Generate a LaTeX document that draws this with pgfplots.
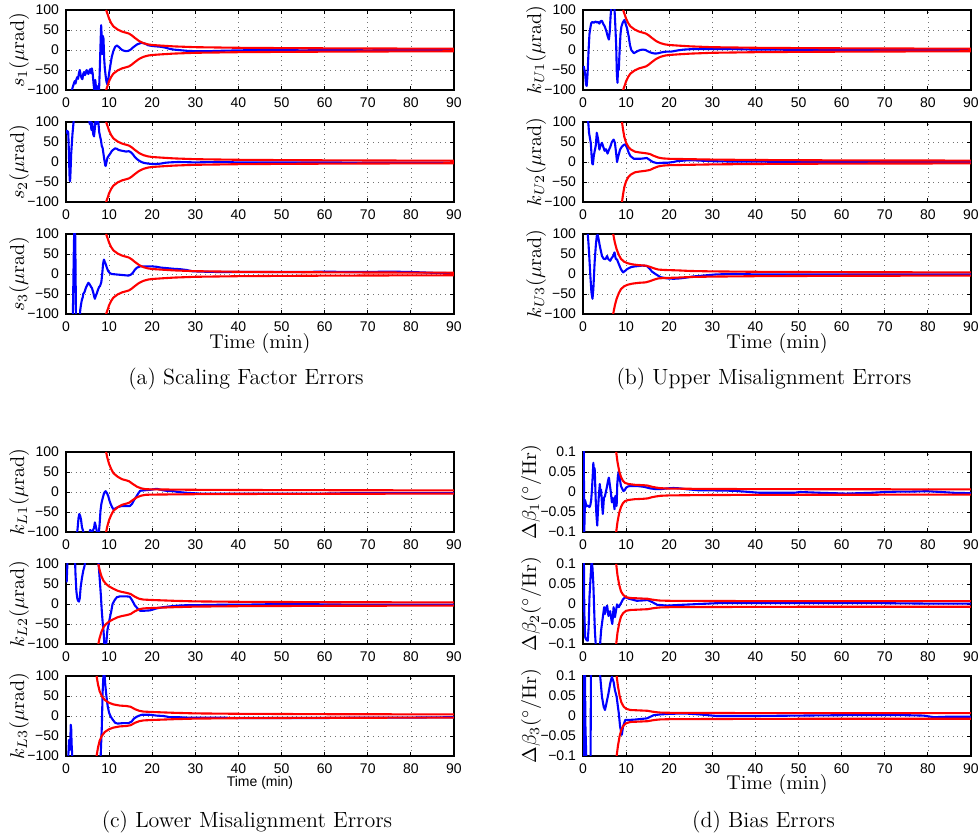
\documentclass[border=0pt]{standalone}
\usepackage{fontspec}
\usepackage{pgfplots}
\usepackage{pgfplotstable}
\pgfplotsset{compat=1.18}
\newfontfamily\tickfont{Liberation Sans}

% ---------- envelopes (t, upper, lower) ----------
\pgfplotstableread{
t up lo
9.3 100 -100
9.7 88 -88
10 78 -78
10.5 67 -67
11 59 -59
12 51 -51
13 46 -46
14 43 -43
14.6 41 -41
15.2 37 -37
16 30 -30
17 22 -22
18 17 -17
19 14 -14
20 12.5 -12.5
22 11 -11
25 9 -9
30 7 -7
40 5.5 -5.5
50 4.7 -4.7
60 4.2 -4.2
70 3.8 -3.8
80 3.5 -3.5
90 3.2 -3.2
}\EA
\pgfplotstableread{
t up lo
9.05 100 -100
9.3 80 -80
9.6 62 -62
10 48 -48
10.5 38 -38
11 32 -32
12 26 -26
13 24 -24
14.5 22 -22
15.5 20 -20
16.5 15 -15
17.5 11 -11
18.5 9 -9
20 8 -8
25 7 -7
30 6 -6
40 5 -5
60 4 -4
90 3.5 -3.5
}\EBtwo
\pgfplotstableread{
t up lo
7.0 100 -100
7.4 78 -78
7.8 62 -62
8.3 48 -48
8.8 38 -38
9.5 31 -31
10.3 27 -27
11.5 24 -24
13 22 -22
14.5 21 -21
15.5 18 -18
16.5 14 -14
17.5 11 -11
19 10 -10
22 9 -9
25 7.5 -7.5
30 6.5 -6.5
40 5.5 -5.5
60 4.5 -4.5
90 4 -4
}\EBthree
\pgfplotstableread{
t up lo
9.3 100 -100
9.6 85 -85
10 70 -70
10.5 57 -57
11 47 -47
12 38 -38
13 32 -32
14 29 -29
14.6 27 -27
15.5 20 -20
16.5 13 -13
17.5 9 -9
18.5 7 -7
20 6.5 -6.5
25 6 -6
30 5.5 -5.5
40 5 -5
60 4.5 -4.5
90 4 -4
}\ECone
\pgfplotstableread{
t up lo
7.5 100 -100
7.8 85 -85
8.2 70 -70
8.7 58 -58
9.3 50 -50
10 44 -44
11 38 -38
12 33 -33
13 30 -30
14 28 -28
15 25 -25
16 18 -18
17 13 -13
18 11 -11
20 10 -10
25 8 -8
30 6.5 -6.5
40 5.5 -5.5
60 4.5 -4.5
90 4 -4
}\ECtwo
\pgfplotstableread{
t up lo
7.1 100 -100
7.4 80 -80
7.8 62 -62
8.3 50 -50
9 40 -40
10 33 -33
11 29 -29
12.5 26 -26
14 25 -25
15 23 -23
16 17 -17
17 13 -13
18 11 -11
20 10 -10
25 8 -8
30 6.5 -6.5
40 5.5 -5.5
60 4.5 -4.5
90 4 -4
}\ECthree
\pgfplotstableread{
t up lo
7.7 0.1 -0.1
8.0 0.075 -0.075
8.4 0.052 -0.052
8.8 0.038 -0.038
9.2 0.029 -0.029
9.7 0.023 -0.023
10.5 0.02 -0.02
12 0.018 -0.018
14 0.017 -0.017
15 0.016 -0.016
16 0.013 -0.013
17 0.011 -0.011
18 0.0095 -0.0095
20 0.0085 -0.0085
25 0.008 -0.008
30 0.0075 -0.0075
50 0.007 -0.007
90 0.0065 -0.0065
}\EDone
\pgfplotstableread{
t up lo
7.7 0.1 -0.1
8.0 0.072 -0.072
8.4 0.048 -0.048
8.8 0.032 -0.032
9.3 0.023 -0.023
10 0.017 -0.017
11 0.015 -0.015
13 0.014 -0.014
15 0.013 -0.013
16 0.011 -0.011
17 0.0095 -0.0095
18 0.0085 -0.0085
20 0.008 -0.008
30 0.0075 -0.0075
50 0.007 -0.007
90 0.007 -0.007
}\EDtwo
\pgfplotstableread{
t up lo
7.8 0.1 -0.1
8.1 0.075 -0.075
8.5 0.05 -0.05
8.9 0.034 -0.034
9.4 0.024 -0.024
10 0.018 -0.018
11 0.015 -0.015
13 0.014 -0.014
15 0.013 -0.013
16 0.011 -0.011
17 0.0095 -0.0095
18 0.0085 -0.0085
20 0.008 -0.008
30 0.0075 -0.0075
50 0.007 -0.007
90 0.007 -0.007
}\EDthree

% ---------- blue estimation errors ----------
\pgfplotstableread{
t v
1.3 -105
1.5 -95
1.8 -85
2.0 -78
2.2 -84
2.4 -74
2.6 -68
2.8 -72
3.0 -58
3.2 -50
3.4 -62
3.6 -70
3.8 -73
4.0 -60
4.2 -55
4.4 -63
4.6 -58
4.8 -50
5.0 -56
5.2 -60
5.4 -52
5.6 -48
5.8 -58
6.0 -46
6.2 -60
6.4 -85
6.6 -105
6.8 -75
7.0 -100
7.2 -115
7.4 -90
7.6 -120
7.8 -60
8.0 10
8.15 62
8.3 30
8.4 -10
8.55 35
8.7 28
8.85 -20
9.0 -45
9.2 -65
9.4 -80
9.6 -86
9.8 -75
10.0 -58
10.3 -38
10.6 -18
11.0 -2
11.4 8
11.8 11
12.2 8
12.6 4
13.0 0
13.5 -2
14.0 -3
14.5 -2
15.0 1
15.5 6
16.0 10
16.5 14
17.0 16
17.5 18
18.0 17
18.5 15
19.0 12
20.0 10
21 9
22 8
23 6
24 3
25 1
26 0
28 -2
30 -3
33 -3
36 -2
40 -1
45 0
50 0
55 -1
60 0
65 0
70 -1
75 0
80 0
85 0
90 0
}\Aone
\pgfplotstableread{
t v
0.15 80
0.3 72
0.5 76
0.6 50
0.7 10
0.85 -45
0.95 -48
1.05 -25
1.2 20
1.5 70
1.8 105
2.0 130
5.0 130
5.3 115
5.5 95
5.7 102
5.9 80
6.1 98
6.3 70
6.5 64
6.7 85
6.9 110
7.1 95
7.3 110
7.5 100
7.7 75
7.9 64
8.1 55
8.3 40
8.5 35
8.7 20
8.9 5
9.1 -8
9.2 -10
9.4 0
9.6 10
9.8 14
10.2 20
10.6 27
11.0 31
11.4 34
11.8 33
12.2 30
12.6 29
13.0 28
13.5 27
14.0 26
14.5 27
14.8 26
15.2 23
15.6 18
16.0 12
16.5 7
17.0 3
17.5 0
18.0 -2
19.0 -4
20.0 -5
21 -5
22 -4
23 -2
24 -1
26 0
30 -1
35 0
40 -1
50 -1
60 -1
70 -2
80 -2
90 -2
}\Atwo
\pgfplotstableread{
t v
1.3 -130
1.6 -100
1.8 50
1.95 130
2.1 130
2.2 30
2.25 -30
2.3 -130
3.2 -130
3.3 -90
3.5 -75
3.7 -64
3.9 -58
4.0 -50
4.3 -45
4.6 -35
4.9 -28
5.2 -22
5.5 -26
5.8 -32
6.0 -35
6.3 -45
6.5 -55
6.7 -62
6.9 -55
7.1 -50
7.4 -40
7.7 -32
7.9 -30
8.2 -20
8.4 0
8.6 25
8.8 36
9.0 30
9.2 25
9.5 15
9.8 7
10.2 2
10.6 0
11.5 -1
12.5 -2
13.5 -3
14.5 -4
15.0 -2
15.5 3
16.0 11
16.5 16
17.2 19
18 19
19 19
20 19
21 18
22 16
23 15
24 14
25 13
26.5 12
28 10
29.2 7
31 6
35 5
40 5
45 5
50 5
55 5
60 6
65 5
70 5
75 6
80 5
85 3
90 2
}\Athree
\pgfplotstableread{
t v
0.15 -40
0.3 -48
0.5 -60
0.7 -86
0.85 -90
1.0 -70
1.1 -50
1.3 0
1.5 40
1.7 55
1.9 67
2.2 70
2.5 68
2.9 71
3.2 69
3.5 70
3.8 66
4.1 72
4.4 73
4.7 65
5.0 60
5.4 48
5.7 35
6.0 26
6.2 45
6.4 85
6.6 110
7.0 120
7.3 105
7.5 60
7.7 10
7.85 -60
8.0 -82
8.15 -40
8.3 -50
8.5 0
8.7 40
8.9 58
9.2 68
9.6 75
9.9 65
10.2 55
10.6 34
10.9 12
11.2 0
11.8 -8
12.3 -5
12.8 -2
13.3 0
13.9 1
14.5 0
15.0 -3
15.6 -6
16.2 -8
16.8 -9
17.5 -8
18.2 -6
18.7 -5
19.5 -4
20.5 -4
21 -3
22 -1
23.4 1
25 2
28 2
32 2
36 2
40 1
45 1
50 0
60 0
70 0
80 0
90 0
}\Bone
\pgfplotstableread{
t v
1.1 105
1.25 95
1.4 73
1.6 60
1.8 48
2.0 15
2.15 -4
2.3 -6
2.5 15
2.7 27
2.95 40
3.2 73
3.5 57
3.8 31
4.1 42
4.4 48
4.7 38
5.0 28
5.3 32
5.7 21
6.0 30
6.3 37
6.7 50
7.1 56
7.4 48
7.6 30
7.9 0
8.2 15
8.6 31
9.0 38
9.5 43
9.8 44
10.2 36
10.6 23
11.0 15
11.8 8
12.5 8
13.3 8
14.1 9
14.8 10
15.5 5
16.2 0
17.2 -3
18.5 -2
19.5 -2
21 0
21.8 2
24 4
26 4
28 3
30 2
35 1
40 1
50 0
60 0
70 0
80 0
90 0
}\Btwo
\pgfplotstableread{
t v
1.1 100
1.25 80
1.4 54
1.7 -4
1.95 -45
2.2 -62
2.4 -38
2.7 30
3.0 75
3.2 95
3.4 98
3.6 88
3.9 70
4.2 55
4.4 45
4.8 38
5.2 37
5.6 45
5.8 38
6.3 33
6.6 39
7.0 45
7.3 54
7.6 38
7.9 36
8.3 25
8.8 12
9.3 4
9.8 8
10.2 12
11.1 17
12 19
13 20
13.7 21
14.8 20
15.4 14
16 6
16.8 0
18 -8
19.5 -11
21 -12
22.5 -11
24 -9
25.7 -6
27 -5
28.8 -3
31 -1
35 0
40 -1
50 -1
60 -1
70 -1
80 -1
90 -1
}\Bthree
\pgfplotstableread{
t v
2.5 -110
2.7 -90
2.9 -65
3.1 -55
3.3 -60
3.5 -70
3.7 -88
3.9 -95
4.2 -105
5.4 -105
5.6 -95
5.9 -98
6.2 -97
6.5 -90
6.7 -76
6.9 -85
7.1 -95
7.3 -110
7.6 -105
7.8 -80
8.0 -47
8.2 -30
8.4 -20
8.6 -12
8.8 -4
9.0 0
9.2 2
9.5 -3
9.8 -10
10.1 -22
10.4 -31
10.7 -38
11.0 -43
11.5 -41
12 -38
12.9 -35
13.5 -35
14.2 -35
14.8 -35
15.3 -30
15.8 -20
16.4 -10
16.8 -3
17.2 3
18 4
19 5
20 6
21 8
21.8 6
22.6 4
24 2
24.9 2
26 0
28 -2
31 -4
35 -4
40 -4
45 -4
50 -4
55 -4
60 -4
65 -3
70 -3
75 -3
80 -3
85 -3
90 -3
}\Cone
\pgfplotstableread{
t v
0.15 54
0.25 80
0.35 110
2.1 110
2.2 75
2.4 33
2.6 15
2.8 8
3.0 6
3.2 15
3.4 42
3.7 65
4.0 83
4.3 95
4.5 110
7.5 110
7.7 80
7.9 50
8.1 20
8.3 -17
8.5 -45
8.7 -66
8.9 -100
9.1 -110
9.3 -105
9.6 -66
9.9 -50
10.2 -33
10.5 -18
10.8 0
11.3 10
11.8 17
12.5 19
13.3 19
14.1 19
14.8 18
15.3 10
16 -4
16.6 -11
17.2 -17
18 -17
19.5 -16
21 -11
22.5 -8
24.1 -6
26 -4
28 -3
30 -3
35 -2
40 -2
45 -1
50 0
55 0
60 -1
70 -2
80 -2
90 -2
}\Ctwo
\pgfplotstableread{
t v
0.5 -110
0.7 -60
0.85 -85
1.0 -65
1.1 -22
1.2 -30
1.3 -70
1.5 -110
8.0 -110
8.3 -30
8.5 60
8.7 105
8.9 110
9.1 80
9.3 57
9.5 38
9.7 23
10.0 8
10.4 -2
10.9 -10
11.4 -17
12 -19
13 -18
14.5 -18
15.2 -14
15.8 -6
16.4 -2
17 1
17.6 3
18.5 3
19.5 3
21 1
22.6 0
24.1 -3
26 -3
28 -4
30 -4
35 -4
40 -5
50 -5
60 -5
70 -4
80 -4
90 -3
}\Cthree
\pgfplotstableread{
t v
0.15 0.1
0.2 0.12
0.25 -0.12
0.3 -0.1
0.45 -0.02
0.6 -0.026
0.8 -0.036
1.0 -0.034
1.3 -0.035
1.5 -0.038
1.7 -0.033
1.9 -0.02
2.1 0.01
2.25 0.04
2.4 0.073
2.55 0.045
2.7 0.06
2.8 0.03
2.95 -0.02
3.1 -0.055
3.3 -0.084
3.5 -0.04
3.7 -0.005
3.9 0.02
4.05 -0.008
4.2 0.006
4.4 -0.03
4.6 -0.055
4.85 -0.015
5.1 -0.01
5.3 0.0
5.5 0.01
5.8 0.028
6.0 0.036
6.2 0.02
6.45 0.0
6.7 -0.026
6.9 -0.015
7.1 -0.02
7.3 -0.043
7.5 -0.01
7.6 -0.025
7.8 -0.035
7.95 0.02
8.1 0.04
8.3 0.052
8.5 0.035
8.8 0.015
9.1 0.008
9.4 0.002
9.7 0.005
10.0 0.011
10.5 0.014
11.0 0.015
12.5 0.015
14.1 0.013
15.6 0.009
17 0.007
17.9 0.007
19.5 0.009
21 0.01
22.5 0.009
24 0.007
27 0.004
30 0.004
35 0.003
41 -0.002
45 -0.002
49 -0.002
50.4 0.0
55 -0.002
61 -0.004
64 -0.003
67 -0.002
70 0.0
73.6 0.001
76 0.001
79.8 0.002
83 0.0
86 -0.002
90 -0.003
}\Done
\pgfplotstableread{
t v
0.15 0.1
0.2 0.12
0.3 -0.02
0.5 -0.083
0.8 -0.09
1.1 -0.092
1.3 -0.06
1.5 0.017
1.75 0.066
2.0 0.11
2.2 0.09
2.4 0.05
2.55 0.0
2.75 -0.066
3.0 -0.11
3.9 -0.11
4.2 -0.066
4.6 -0.033
4.9 -0.008
5.1 -0.025
5.3 -0.012
5.6 -0.004
5.9 -0.03
6.3 -0.018
6.6 -0.04
6.8 -0.05
7.1 -0.008
7.4 -0.033
7.9 -0.001
8.3 -0.008
8.8 0.002
9.3 0.012
9.8 0.017
10.7 0.013
12.5 0.008
14 0.009
15 0.01
16 0.005
17.2 -0.002
19.5 -0.004
23 -0.002
27 0.0
31 0.002
40 0.002
50 0.002
60 0.002
70 0.002
80 0.001
90 0.001
}\Dtwo
\pgfplotstableread{
t v
0.15 0.1
0.2 0.12
0.25 -0.12
0.35 -0.035
0.45 0.12
0.55 -0.02
0.8 -0.12
1.3 -0.12
1.75 -0.12
1.85 0.12
3.9 0.12
4.0 0.098
4.4 0.048
4.8 0.023
5.1 0.015
5.4 0.03
5.9 0.056
6.3 0.081
6.7 0.098
7.1 0.085
7.4 0.065
7.8 0.048
8.3 0.007
8.6 -0.026
9.0 -0.047
9.3 -0.026
9.8 -0.01
10.5 -0.01
12 -0.009
14.8 -0.006
16.4 0.002
18 0.004
19.5 0.005
22 0.006
24 0.006
27 0.004
31 0.0
40 0.0
50 0.001
60 0.002
70 0.002
75 0.002
79 0.001
81.4 -0.003
84 -0.002
87 -0.002
90 -0.002
}\Dthree

\pgfplotsset{
  errax/.style={
    scale only axis, width=194pt, height=40pt, anchor=south west,
    xmin=0, xmax=90, xtick={0,10,...,90},
    xticklabels={0,10,20,30,40,50,60,70,80,90},
    tick align=inside, major tick length=2pt,
    tick style={black, line width=0.4pt},
    grid=major, grid style={dotted, black!55, line width=0.35pt},
    axis line style={line width=0.6pt},
    ticklabel style={font=\fontsize{7}{8}\selectfont\tickfont},
    xticklabel style={inner ysep=0.5pt, yshift=-3.0pt},
    ylabel style={at={(axis description cs:-0.108,0.5)}, anchor=base},
  },
  micro/.style={errax, ymin=-100, ymax=100, ytick={-100,-50,0,50,100},
    yticklabels={−100,−50,0,50,100}},
  bias/.style={errax, ymin=-0.1, ymax=0.1, ytick={-0.1,-0.05,0,0.05,0.1},
    yticklabels={−0.1,−0.05,0,0.05,0.1},
    ylabel style={at={(axis description cs:-0.121,0.5)}, anchor=base}},
  est/.style={blue, line width=1.05pt, line join=round},
  bnd/.style={red, line width=1.05pt},
}

\begin{document}
\begin{tikzpicture}
\useasboundingbox (0,0) rectangle (490pt,420pt);

% ===== (a) =====
\begin{axis}[micro, at={(33pt,375pt)}, ylabel={$s_1(\mu\mathrm{rad})$}]
\addplot[est] table[x=t,y=v] {\Aone};
\addplot[bnd] table[x=t,y=up] {\EA};
\addplot[bnd] table[x=t,y=lo] {\EA};
\end{axis}
\begin{axis}[micro, at={(33pt,319pt)}, ylabel={$s_2(\mu\mathrm{rad})$}]
\addplot[est] table[x=t,y=v] {\Atwo};
\addplot[bnd] table[x=t,y=up] {\EA};
\addplot[bnd] table[x=t,y=lo] {\EA};
\end{axis}
\begin{axis}[micro, at={(33pt,263pt)}, ylabel={$s_3(\mu\mathrm{rad})$},
  xlabel={Time (min)}, xlabel style={at={(axis description cs:0.5,-0.4375)}, anchor=base, inner sep=0pt}]
\addplot[est] table[x=t,y=v] {\Athree};
\addplot[bnd] table[x=t,y=up] {\EA};
\addplot[bnd] table[x=t,y=lo] {\EA};
\end{axis}
\node[anchor=base, font=\fontsize{11}{13}\selectfont] at (123pt,227.5pt) {(a)\ Scaling Factor Errors};

% ===== (b) =====
\begin{axis}[micro, at={(291.5pt,375pt)}, ylabel={$k_{U1}(\mu\mathrm{rad})$}]
\addplot[est] table[x=t,y=v] {\Bone};
\addplot[bnd] table[x=t,y=up] {\EA};
\addplot[bnd] table[x=t,y=lo] {\EA};
\end{axis}
\begin{axis}[micro, at={(291.5pt,319pt)}, ylabel={$k_{U2}(\mu\mathrm{rad})$}]
\addplot[est] table[x=t,y=v] {\Btwo};
\addplot[bnd] table[x=t,y=up] {\EBtwo};
\addplot[bnd] table[x=t,y=lo] {\EBtwo};
\end{axis}
\begin{axis}[micro, at={(291.5pt,263pt)}, ylabel={$k_{U3}(\mu\mathrm{rad})$},
  xlabel={Time (min)}, xlabel style={at={(axis description cs:0.5,-0.4375)}, anchor=base, inner sep=0pt}]
\addplot[est] table[x=t,y=v] {\Bthree};
\addplot[bnd] table[x=t,y=up] {\EBthree};
\addplot[bnd] table[x=t,y=lo] {\EBthree};
\end{axis}
\node[anchor=base, font=\fontsize{11}{13}\selectfont] at (382pt,227.5pt) {(b)\ Upper Misalignment Errors};

% ===== (c) =====
\begin{axis}[micro, at={(33pt,154pt)}, ylabel={$k_{L1}(\mu\mathrm{rad})$}]
\addplot[est] table[x=t,y=v] {\Cone};
\addplot[bnd] table[x=t,y=up] {\ECone};
\addplot[bnd] table[x=t,y=lo] {\ECone};
\end{axis}
\begin{axis}[micro, at={(33pt,98pt)}, ylabel={$k_{L2}(\mu\mathrm{rad})$}]
\addplot[est] table[x=t,y=v] {\Ctwo};
\addplot[bnd] table[x=t,y=up] {\ECtwo};
\addplot[bnd] table[x=t,y=lo] {\ECtwo};
\end{axis}
\begin{axis}[micro, at={(33pt,42pt)}, ylabel={$k_{L3}(\mu\mathrm{rad})$},
  xlabel={Time (min)}, xlabel style={at={(axis description cs:0.5,-0.3875)}, anchor=base, inner sep=0pt, font=\fontsize{7}{8}\selectfont\tickfont}]
\addplot[est] table[x=t,y=v] {\Cthree};
\addplot[bnd] table[x=t,y=up] {\ECthree};
\addplot[bnd] table[x=t,y=lo] {\ECthree};
\end{axis}
\node[anchor=base, font=\fontsize{11}{13}\selectfont] at (123.5pt,6pt) {(c)\ Lower Misalignment Errors};

% ===== (d) =====
\begin{axis}[bias, at={(291.5pt,154pt)}, ylabel={$\Delta\beta_1(^\circ/\mathrm{Hr})$}]
\addplot[est] table[x=t,y=v] {\Done};
\addplot[bnd] table[x=t,y=up] {\EDone};
\addplot[bnd] table[x=t,y=lo] {\EDone};
\end{axis}
\begin{axis}[bias, at={(291.5pt,98pt)}, ylabel={$\Delta\beta_2(^\circ/\mathrm{Hr})$}]
\addplot[est] table[x=t,y=v] {\Dtwo};
\addplot[bnd] table[x=t,y=up] {\EDtwo};
\addplot[bnd] table[x=t,y=lo] {\EDtwo};
\end{axis}
\begin{axis}[bias, at={(291.5pt,42pt)}, ylabel={$\Delta\beta_3(^\circ/\mathrm{Hr})$},
  xlabel={Time (min)}, xlabel style={at={(axis description cs:0.5,-0.425)}, anchor=base, inner sep=0pt}]
\addplot[est] table[x=t,y=v] {\Dthree};
\addplot[bnd] table[x=t,y=up] {\EDthree};
\addplot[bnd] table[x=t,y=lo] {\EDthree};
\end{axis}
\node[anchor=base, font=\fontsize{11}{13}\selectfont] at (381.75pt,6pt) {(d)\ Bias Errors};
\end{tikzpicture}
\end{document}
